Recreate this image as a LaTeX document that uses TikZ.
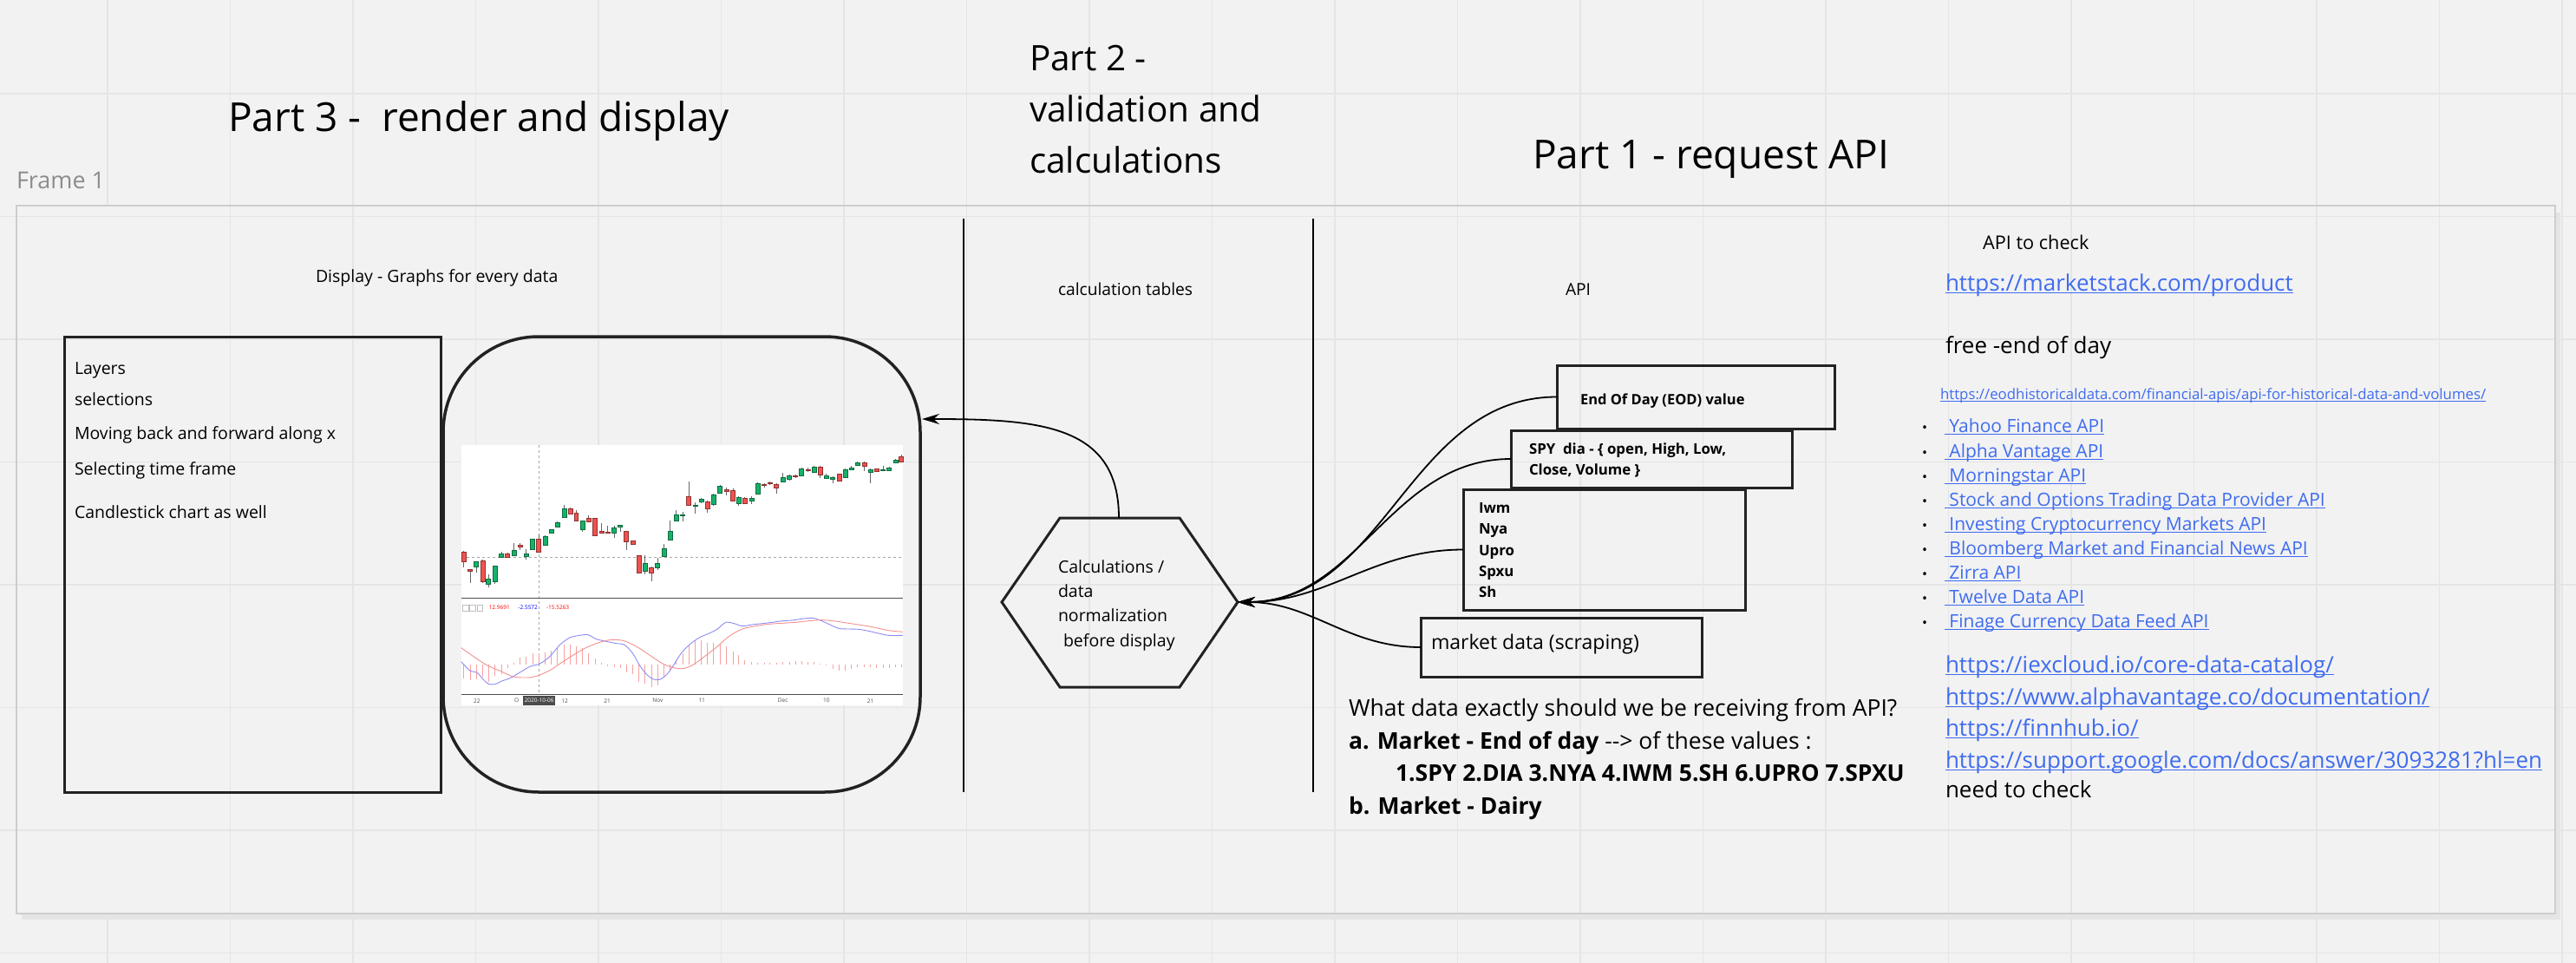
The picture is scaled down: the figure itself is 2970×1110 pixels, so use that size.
\documentclass[tikz,border=0pt]{standalone}
\usepackage{fontspec}
\setmainfont{Open Sans}
\usetikzlibrary{arrows.meta}
\definecolor{bg}{HTML}{F2F2F2}
\definecolor{gridc}{HTML}{E5E5E5}
\definecolor{framec}{HTML}{CDCDCD}
\definecolor{linkblue}{HTML}{3F6CF0}
\definecolor{boxc}{HTML}{222222}
\definecolor{cG}{HTML}{17B26A}
\definecolor{cR}{HTML}{EF5350}
\definecolor{macdblue}{HTML}{8C8CF5}
\definecolor{macdred}{HTML}{F59090}
\definecolor{histc}{HTML}{F7A0A0}
\newcommand\fsz[1]{\fontsize{#1pt}{#1pt}\selectfont}
\newcommand\lnk[5]{%
  \node[txt, text=linkblue, font={\fsz{#4}}] (#1) at (#2,#3) {#5};
  \draw[linkblue, line width=1.4pt] ([yshift=-2.6pt]#1.base west) -- ([yshift=-2.6pt]#1.base east);
}
\begin{document}
\begin{tikzpicture}[x=1pt,y=-1pt,
  txt/.style={inner sep=0pt, outer sep=0pt, anchor=base west},
  boxstyle/.style={draw=boxc, line width=3pt, inner sep=0pt, outer sep=0pt, anchor=north west},
  conn/.style={line width=1.8pt, -{Stealth[length=20pt,width=12pt]}},
  divider/.style={line width=1.8pt, black},
  gridline/.style={gridc, line width=1.6pt}]
\useasboundingbox (0,0) rectangle (2970,1110);
\fill[bg] (0,0) rectangle (2970,1110);
% grid
\foreach \i in {0,...,20} {\draw[gridline] ({124+141.5*\i},0) -- ({124+141.5*\i},1110);}
\foreach \j in {0,...,7} {\draw[gridline] (0,{108+141.5*\j}) -- (2970,{108+141.5*\j});}
% frame
\fill[black!10] (25,245) rectangle (2952,1060);
\fill[bg] (19,237) rectangle (2946,1053);
\foreach \i in {1,...,20} {\draw[gridline] ({124+141.5*\i},237) -- ({124+141.5*\i},1053);}
\foreach \j in {1,...,6} {\draw[gridline] (19,{108+141.5*\j}) -- (2946,{108+141.5*\j});}
\draw[framec, line width=1.6pt] (19,237) rectangle (2946,1053);
\node[txt, text=black!45, font={\fsz{27}}] (frm) at (19,217) {Frame 1};

% titles
\node[txt, font={\fsz{46}}] (t3) at (263,152) {Part 3 -\ \ render and display};
\node[txt, font={\fsz{40.5}}] (t2a) at (1187,82) {Part 2 -};
\node[txt, font={\fsz{40.5}}] (t2b) at (1187,141) {validation and};
\node[txt, font={\fsz{40.5}}] (t2c) at (1187,200) {calculations};
\node[txt, font={\fsz{46}}] (t1) at (1767,195) {Part 1 - request API};

% dividers
\coordinate (d1t) at (1111,252); \coordinate (d1b) at (1111,913);
\coordinate (d2t) at (1514,252); \coordinate (d2b) at (1514,913);
\draw[divider] (d1t) -- (d1b);
\draw[divider] (d2t) -- (d2b);

% section labels
\node[txt, font={\fsz{19.5}}] (lbl1) at (364,325) {Display - Graphs for every data};
\node[txt, font={\fsz{19.2}}] (lbl2) at (1220,340) {calculation tables};
\node[txt, font={\fsz{19.2}}] (lbl3) at (1805,340) {API};
\node[txt, font={\fsz{21.7}}] (lbl4) at (2286,287) {API to check};

% left rectangle
\node[boxstyle, minimum width=434pt, minimum height=525pt] (feat) at (74,388) {};
\node[txt, font={\fsz{19.5}}] (f1) at (86,431) {Layers};
\node[txt, font={\fsz{19.5}}] (f2) at (86,467) {selections};
\node[txt, font={\fsz{19.5}}] (f3) at (86,506) {Moving back and forward along x};
\node[txt, font={\fsz{19.5}}] (f4) at (86,547) {Selecting time frame};
\node[txt, font={\fsz{19.5}}] (f5) at (86,597) {Candlestick chart as well};

% rounded chart box
\node[boxstyle, rounded corners=110pt, line width=3.5pt, minimum width=550pt, minimum height=525pt] (chartbox) at (511,388) {};

% chart
\begin{scope}[shift={(500,480)}, x=0.3827pt, y=-0.33333pt]
\fill[white] (83,100) rectangle (1413,998);
\draw[black!35, dashed, line width=0.6pt] (83,487) -- (1413,487);
\draw[black!35, dashed, line width=0.6pt] (318,100) -- (318,960);
\foreach \x/\wt/\wb/\bt/\bb/\c in {
90/465/522/468/502/R,110/528/575/530/534/R,128/500/540/502/520/G,147/496/575/498/572/R,
165/545/592/562/580/G,184/515/578/518/572/G,204/468/490/474/488/G,222/470/490/474/488/R,
241/438/484/464/482/G,260/438/462/444/450/R,278/460/496/476/484/G,298/422/462/425/460/G,
316/408/470/425/468/R,335/410/448/416/446/G,354/390/406/392/404/G,373/364/384/368/382/G,
393/305/352/318/350/G,411/316/340/320/338/R,429/325/362/335/360/R,448/360/398/362/390/G,
467/342/364/352/364/R,486/350/414/352/412/R,505/370/402/398/402/R,524/378/405/399/404/R,
543/378/420/385/402/G,562/374/398/377/381/G,580/396/462/398/432/R,599/428/444/430/442/R,
618/480/544/482/542/R,637/480/545/508/536/G,656/518/570/522/542/R,674/490/532/508/522/G,
693/440/487/458/485/G,712/360/430/396/428/G,731/325/362/340/360/G,750/330/364/339/343/G,
768/226/308/278/306/R,788/298/336/307/311/G,806/282/300/286/296/G,825/290/332/294/318/R,
843/268/308/272/305/G,862/238/268/242/265/G,882/245/272/254/258/R,901/248/294/256/292/R,
919/276/310/280/300/G,937/280/302/282/300/R,957/276/304/283/292/G,976/228/270/232/268/G,
995/232/246/234/238/R,1013/226/236/229/233/R,1032/232/268/236/246/R,1051/196/228/210/226/G,
1071/200/222/206/218/G,1090/200/214/205/209/R,1108/178/206/180/205/G,1127/178/192/183/188/R,
1146/172/194/176/192/G,1164/170/212/174/202/R,1183/198/216/205/214/G,1202/206/232/210/216/G,
1221/198/226/200/224/R,1240/180/212/184/210/G,1258/170/186/178/184/G,1277/156/170/160/168/G,
1297/156/190/160/172/R,1315/180/232/184/192/G,1334/180/192/182/190/R,1353/172/188/184/187/G,
1372/174/188/178/186/G,1391/146/162/150/160/G,1408/132/158/138/156/R} {
  \draw[black!60, line width=0.6pt] (\x,\wt) -- (\x,\wb);
  \filldraw[fill=c\c, draw=c\c!60!black, line width=0.4pt] ({\x-6.5},\bt) rectangle ({\x+6.5},\bb);
}
\draw[black!70, line width=1pt] (83,628) -- (1413,628);
\foreach \x/\v in {90/905,110/912,128/910,147/900,165/918,184/898,204/890,222/870,241/852,260/835,278/830,298/820,316/818,335/815,354/810,373/800,393/790,411/790,429/795,448/800,467/818,486/838,505/852,524/865,543/868,562/870,580/885,599/890,618/918,637/925,656/935,674/930,693/900,712/882,731/843,750/818,768/790,788/775,806/775,825/782,843/782,862/790,882/795,901/812,919/825,937/842,957/850,976/852,995/852,1013/852,1032/852,1051/850,1071/848,1090/846,1108/845,1127/848,1146/850,1164/854,1183/862,1202/872,1221/880,1240/878,1258/872,1277/868,1297/868,1315/868,1334/870,1353/870,1372/870,1391/868,1408/866} {
  \draw[histc, line width=0.6pt] (\x,857) -- (\x,\v);
}
\draw[macdblue, line width=0.9pt] plot[smooth] coordinates {(83,848) (110,880) (130,885) (150,910) (165,925) (185,926) (205,915) (230,905) (260,885) (290,865) (320,855) (350,830) (380,790) (410,765) (440,757) (465,755) (490,770) (520,778) (550,785) (575,790) (600,820) (620,860) (640,890) (660,908) (680,910) (700,895) (720,865) (745,820) (770,790) (800,765) (830,750) (855,735) (880,712) (905,716) (930,725) (960,720) (990,716) (1020,712) (1050,707) (1080,705) (1110,700) (1140,697) (1165,705) (1190,718) (1220,733) (1250,735) (1280,736) (1310,742) (1340,750) (1370,757) (1413,757)};
\draw[macdred, line width=0.9pt] plot[smooth] coordinates {(83,800) (120,830) (160,860) (200,880) (240,900) (280,903) (310,898) (350,878) (400,840) (450,805) (490,785) (530,773) (570,775) (610,795) (650,825) (690,855) (720,868) (750,872) (780,860) (810,835) (850,800) (890,760) (930,735) (970,725) (1010,718) (1050,715) (1090,712) (1130,707) (1170,704) (1210,708) (1250,715) (1290,722) (1330,730) (1370,740) (1413,745)};
\draw[black!70, line width=1pt] (83,960) -- (1413,960);
\foreach \k in {0,1,2} {\draw[black!25, line width=0.5pt] ({88+21*\k},652) rectangle ({104+21*\k},672);}
\node[font={\fsz{6.5}}, text=red, inner sep=0pt] (mv1) at (198,662) {12.9691};
\node[font={\fsz{6.5}}, text=blue, inner sep=0pt] (mv2) at (284,662) {-2.5572};
\node[font={\fsz{6.5}}, text=red, inner sep=0pt] (mv3) at (374,662) {-15.5263};
\foreach \x/\t [count=\n] in {130/22,250/O,395/12,523/21,675/Nov,808/11,1052/Dec,1183/10,1316/21} {
  \node[font={\fsz{6.5}}, text=black!70, inner sep=0pt] (ax\n) at (\x,983) {\t};
}
\node[fill=black!70, text=white, font={\fsz{6.5}}, inner sep=1.5pt, minimum height=11pt] (axdate) at (318,981) {2020-10-06};
\end{scope}

% hexagon
\coordinate (hexW) at (1155,694);
\coordinate (hexNW) at (1222,597);
\coordinate (hexNE) at (1360,597);
\coordinate (hexE) at (1427,694);
\coordinate (hexSE) at (1360,792);
\coordinate (hexSW) at (1222,792);
\coordinate (hexN) at (1290,597);
\draw[boxc, line width=3pt, line join=miter] (hexW) -- (hexNW) -- (hexNE) -- (hexE) -- (hexSE) -- (hexSW) -- cycle;
\node[txt, font={\fsz{19.5}}] (h1) at (1220,660) {Calculations /};
\node[txt, font={\fsz{19.5}}] (h2) at (1220,688) {data};
\node[txt, font={\fsz{19.5}}] (h3) at (1220,716) {normalization};
\node[txt, font={\fsz{19.5}}] (h4) at (1226,745) {before display};

% arrow to chart
\coordinate (arrin) at (1063,483);
\draw[conn] (hexN) .. controls (1290,490) and (1200,483) .. (arrin);

% API boxes
\node[boxstyle, minimum width=320pt, minimum height=73pt] (eod) at (1795,421) {};
\node[txt, font={\fsz{16.5}\bfseries}] (eodt) at (1822,466) {End Of Day (EOD) value};
\node[boxstyle, minimum width=324pt, minimum height=66pt] (spy) at (1742,496) {};
\node[txt, font={\fsz{16.8}\bfseries}] (spyt1) at (1763,523) {SPY\ \ dia - \{ open, High, Low,};
\node[txt, font={\fsz{16.8}\bfseries}] (spyt2) at (1763,547) {Close, Volume \}};
\node[boxstyle, minimum width=325pt, minimum height=139pt] (iwm) at (1687,564) {};
\node[txt, font={\fsz{16.8}\bfseries}] (iw1) at (1705,591) {Iwm};
\node[txt, font={\fsz{16.8}\bfseries}] (iw2) at (1705,615) {Nya};
\node[txt, font={\fsz{16.8}\bfseries}] (iw3) at (1705,640) {Upro};
\node[txt, font={\fsz{16.8}\bfseries}] (iw4) at (1705,664) {Spxu};
\node[txt, font={\fsz{16.8}\bfseries}] (iw5) at (1705,688) {Sh};
\node[boxstyle, minimum width=324pt, minimum height=68pt] (mkt) at (1638,712) {};
\node[txt, font={\fsz{23}}] (mktt) at (1650,748) {market data (scraping)};

\draw[conn] (eod.west) to[out=180,in=0] (hexE);
\draw[conn] (spy.west) to[out=180,in=0] (hexE);
\draw[conn] (iwm.west) to[out=180,in=0] (hexE);
\draw[conn] (mkt.west) to[out=180,in=0] (hexE);

% question text
\node[txt, font={\fsz{26.5}}] (q1) at (1555,825) {What data exactly should we be receiving from API?};
\node[txt, font={\fsz{26.5}}] (q2) at (1555,863) {\textbf{a. Market - End of day} {-}{-}> of these values :};
\node[txt, font={\fsz{26.5}\bfseries}] (q3) at (1609,900) {1.SPY 2.DIA 3.NYA 4.IWM 5.SH 6.UPRO 7.SPXU};
\node[txt, font={\fsz{26.5}\bfseries}] (q4) at (1555,938) {b. Market - Dairy};

% right column
\lnk{u1}{2243}{335}{26}{https://marketstack.com/product}
\node[txt, font={\fsz{26}}] (free) at (2243,407) {free -end of day};
\lnk{u2}{2237}{460}{16.8}{https://eodhistoricaldata.com/financial-apis/api-for-historical-data-and-volumes/}
\foreach \y/\t [count=\n] in {498/Yahoo Finance API,527/Alpha Vantage API,555/Morningstar API,583/Stock and Options Trading Data Provider API,611/Investing Cryptocurrency Markets API,639/Bloomberg Market and Financial News API,667/Zirra API,695/Twelve Data API,723/Finage Currency Data Feed API} {
  \node[font={\fsz{16}}, inner sep=0pt, anchor=base] (bul\n) at (2219,\y) {•};
  \lnk{li\n}{2242}{\y}{21}{\ \t\ }
}
\lnk{u3}{2243}{775}{26}{https://iexcloud.io/core-data-catalog/}
\lnk{u4}{2243}{812}{26}{https://www.alphavantage.co/documentation/}
\lnk{u5}{2243}{848}{26}{https://finnhub.io/}
\lnk{u6}{2243}{885}{26}{https://support.google.com/docs/answer/3093281?hl=en}
\node[txt, font={\fsz{26}}] (need) at (2243,919) {need to check};
\end{tikzpicture}
\end{document}
